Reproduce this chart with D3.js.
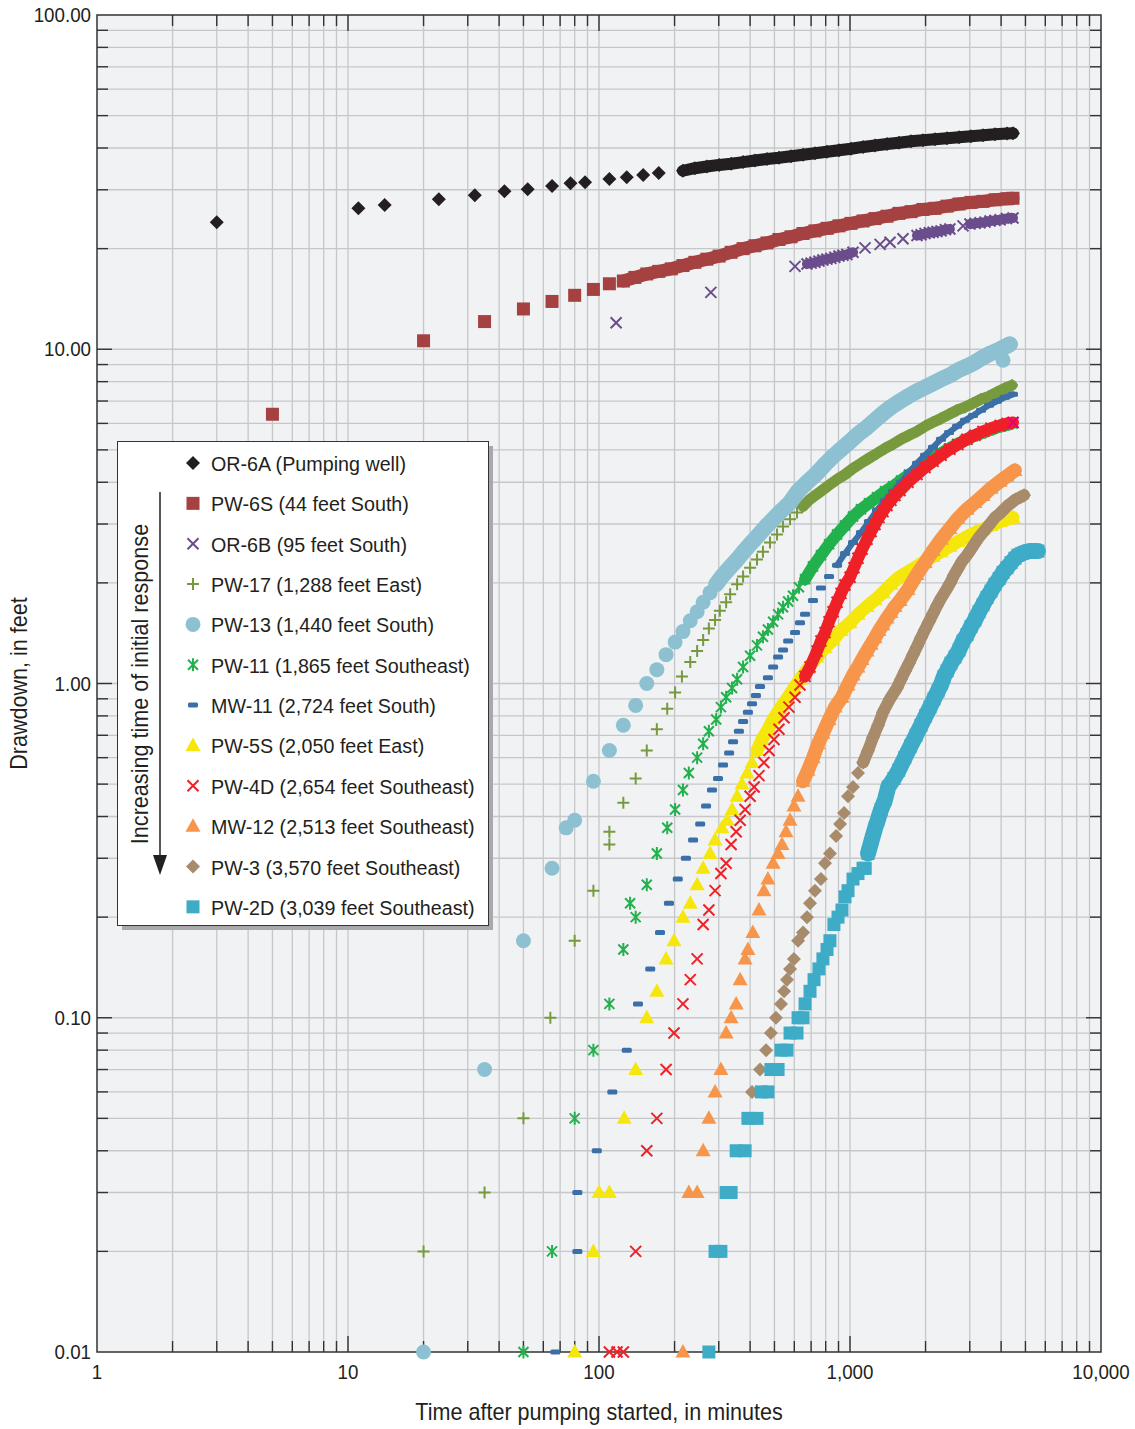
<!DOCTYPE html>
<html>
<head>
<meta charset="utf-8">
<title>Drawdown vs time</title>
<script src="https://d3js.org/d3.v7.min.js"></script>
<style>
  body { margin: 0; background: #fff; }
  text { font-family: "Liberation Sans", Arial, sans-serif; fill: #231f20; font-size: 21px; }
</style>
</head>
<body>
<div id="chart"></div>
<script>
// Drawdown readings, [minutes after pumping started, drawdown in feet]
const OR6A = [[3,24.0],[11,26.4],[14,27.0],[23,28.1],[32,28.9],[42,29.7],[52,30.1],[65,30.8],[77,31.4],[88,31.6],[110,32.3],[129,32.7],[150,33.2],[173,33.7],
  [216,34.2],[241,34.8],[269,35.2],[301,35.6],[336,35.9],[375,36.3],[418,36.7],[467,37.1],[521,37.4],[582,37.8],[650,38.2],[725,38.6],[810,39.0],[904,39.4],[1009,39.8],[1127,40.3],[1258,40.7],[1404,41.1],[1567,41.5],[1750,41.9],[1953,42.2],[2181,42.5],[2435,42.8],[2719,43.1],[3035,43.4],[3388,43.7],[3782,44.0],[4222,44.2],[4460,44.3]];
const PW6S = [[5,6.39],[20,10.6],[35,12.1],[50,13.2],[65,13.9],[80,14.5],[95,15.1],[110,15.7],
  [125,16.0],[139,16.4],[155,16.8],[173,17.1],[194,17.4],[216,17.8],[241,18.2],[269,18.6],[301,19.0],[336,19.5],[375,20.0],[418,20.4],[467,20.8],[521,21.3],[582,21.7],[650,22.2],[725,22.6],[810,23.0],[904,23.4],[1009,23.8],[1127,24.2],[1258,24.6],[1404,25.0],[1567,25.5],[1750,25.8],[1953,26.2],[2181,26.4],[2435,26.8],[2719,27.2],[3035,27.5],[3388,27.7],[3782,28.0],[4222,28.2],[4460,28.3]];
const OR6B = [[117,12.0],[279,14.8],[604,17.7],[674,18.0],[700,18.1],[725,18.2],[752,18.35],[780,18.5],[809,18.6],[839,18.7],[870,18.85],[904,19.0],[937,19.1],[972,19.2],[1028,19.5],[1148,20.1],[1318,20.6],[1444,20.9],[1626,21.4],
  [1849,21.9],[1920,22.0],[1990,22.2],[2070,22.3],[2143,22.4],[2220,22.5],[2306,22.6],[2400,22.8],[2500,22.9],[2820,23.4],[3005,23.7],[3150,23.8],[3296,23.9],[3450,24.0],[3613,24.2],[3780,24.3],[3963,24.4],[4200,24.6],[4460,24.7]];
const PW17 = [[20,0.02],[35,0.03],[50,0.05],[64,0.10],[80,0.17],[95,0.24],[110,0.33],[110,0.36],[125,0.44],[140,0.52],[155,0.63],[170,0.73],[187,0.84],[201,0.94],[214,1.05],[231,1.16],[246,1.25],[260,1.35],[274,1.46],[290,1.55],[303,1.65],[321,1.75],[333,1.85],[355,1.98],[375,2.09],[400,2.22],[426,2.35],[450,2.48],[480,2.64],[512,2.79],[541,2.95],[577,3.10],[615,3.25],[650,3.39],[693,3.56],
  [712,3.61],[766,3.76],[825,3.92],[888,4.08],[955,4.22],[1028,4.40],[1106,4.56],[1190,4.72],[1281,4.88],[1379,5.05],[1484,5.20],[1597,5.38],[1718,5.53],[1849,5.68],[1990,5.88],[2141,6.05],[2304,6.21],[2480,6.39],[2669,6.57],[2872,6.71],[3090,6.89],[3326,7.09],[3579,7.23],[3852,7.44],[4145,7.64],[4420,7.80]];
const PW13 = [[20,0.01],[35,0.07],[50,0.17],[65,0.28],[74,0.37],[80,0.39],[95,0.51],[110,0.63],[125,0.75],[140,0.86],[155,1.00],[170,1.10],[185,1.22],[201,1.33],[216,1.43],[231,1.54],[246,1.64],[260,1.75],[277,1.87],[293,1.98],[309,2.09],[330,2.21],[352,2.33],[375,2.47],[400,2.61],[430,2.77],[463,2.95],[498,3.12],[536,3.30],[577,3.48],[621,3.76],[668,3.97],[725,4.20],[788,4.49],[856,4.78],[929,5.05],[1000,5.30],[1076,5.57],[1169,5.84],[1258,6.13],[1353,6.43],[1456,6.71],[1582,6.99],[1702,7.23],[1849,7.49],[1990,7.69],[2143,7.91],[2306,8.13],[2500,8.36],[2693,8.65],[2924,8.89],[3148,9.14],[3388,9.46],[3646,9.73],[3963,10.0],[4337,10.35]];
const PW13_EXTRA = [[4072,9.27]];
const PW11 = [[50,0.01],[65,0.02],[80,0.05],[95,0.08],[110,0.11],[125,0.16],[133,0.22],[140,0.20],[155,0.25],[170,0.31],[187,0.37],[201,0.42],[216,0.48],[228,0.54],[246,0.60],[260,0.66],[274,0.72],[293,0.78],[306,0.85],[321,0.91],[339,0.97],[355,1.03],[375,1.12],[400,1.21],[426,1.30],[450,1.38],[471,1.45],[494,1.53],[517,1.61],[541,1.69],[567,1.76],[593,1.83],[626,1.94],
  [662,2.05],[712,2.24],[766,2.42],[825,2.61],[888,2.79],[955,2.97],[1028,3.16],[1106,3.32],[1190,3.46],[1281,3.61],[1379,3.76],[1484,3.89],[1597,4.05],[1718,4.22],[1849,4.37],[1990,4.53],[2141,4.72],[2304,4.88],[2480,5.05],[2669,5.20],[2872,5.34],[3090,5.49],[3326,5.60],[3579,5.72],[3852,5.84],[4145,5.92],[4420,6.00]];
const MW11 = [[67,0.01],[82,0.02],[82,0.03],[98,0.04],[113,0.06],[129,0.08],[143,0.11],[160,0.14],[175,0.18],[190,0.22],[206,0.26],[222,0.30],[237,0.34],[253,0.38],[267,0.43],[282,0.48],[298,0.52],[312,0.57],[330,0.62],[342,0.67],[361,0.72],[375,0.77],[392,0.82],[407,0.87],[422,0.92],[438,0.98],[471,1.04],[494,1.12],[517,1.20],[541,1.26],[567,1.34],[604,1.42],[632,1.52],
  [662,1.61],[712,1.77],[766,1.93],[825,2.09],[888,2.26],[955,2.45],[1028,2.64],[1106,2.83],[1190,3.05],[1281,3.30],[1379,3.53],[1484,3.76],[1597,4.00],[1718,4.28],[1849,4.56],[1990,4.82],[2141,5.09],[2304,5.38],[2480,5.64],[2669,5.88],[2872,6.13],[3090,6.34],[3326,6.57],[3579,6.80],[3852,6.99],[4145,7.18],[4460,7.33]];
const PW5S = [[80,0.01],[95,0.02],[100,0.03],[110,0.03],[126,0.05],[140,0.07],[155,0.10],[170,0.12],[185,0.15],[199,0.17],[216,0.20],[231,0.22],[246,0.25],[260,0.28],[277,0.31],[290,0.34],[309,0.37],[324,0.39],[339,0.42],[355,0.46],[371,0.50],[389,0.54],[407,0.58],[426,0.63],[446,0.68],[467,0.72],[494,0.78],[526,0.84],[561,0.90],[593,0.96],[632,1.03],[680,1.11],[739,1.20],[795,1.28],[856,1.35],[921,1.44],[1000,1.52],[1076,1.61],[1169,1.70],[1258,1.78],[1353,1.87],[1456,1.98],[1582,2.09],[1702,2.16],[1849,2.24],[1990,2.32],[2143,2.40],[2306,2.48],[2500,2.57],[2693,2.66],[2924,2.75],[3148,2.83],[3388,2.89],[3646,2.97],[3963,3.05],[4222,3.10],[4460,3.14]];
const PW4D = [[110,0.01],[118,0.01],[125,0.01],[140,0.02],[155,0.04],[170,0.05],[185,0.07],[199,0.09],[216,0.11],[231,0.13],[246,0.15],[260,0.19],[274,0.21],[290,0.24],[306,0.27],[321,0.29],[336,0.33],[352,0.36],[365,0.39],[382,0.42],[400,0.46],[415,0.49],[434,0.53],[454,0.58],[476,0.63],[498,0.68],[521,0.73],[546,0.79],[571,0.85],[604,0.91],[632,0.99],[662,1.05],[693,1.12],[739,1.25],[766,1.34],[795,1.42],[825,1.53],[856,1.64],[888,1.75],[921,1.86],[955,1.97],[1000,2.08],[1037,2.22],[1076,2.37],[1117,2.52],[1169,2.70],[1213,2.85],[1258,2.99],[1305,3.14],[1353,3.27],[1404,3.41],[1456,3.53],[1511,3.65],[1582,3.78],[1702,4.00],[1849,4.22],[1990,4.43],[2143,4.62],[2306,4.82],[2500,5.02],[2693,5.19],[2924,5.38],[3148,5.53],[3388,5.68],[3646,5.80],[3963,5.92],[4222,6.00],[4460,6.04]];
const PW4D_LAST = [[4460,6.04]];
const MW12 = [[216,0.01],[228,0.03],[246,0.03],[260,0.04],[274,0.05],[290,0.06],[306,0.07],[321,0.09],[336,0.10],[352,0.11],[365,0.13],[382,0.15],[392,0.16],[410,0.18],[434,0.21],[454,0.24],[471,0.26],[494,0.29],[517,0.31],[536,0.33],[556,0.36],[577,0.39],[598,0.43],[621,0.46],[650,0.51],[680,0.55],[713,0.60],[746,0.66],[780,0.71],[825,0.78],[872,0.85],[929,0.91],[982,0.99],[1028,1.06],[1076,1.12],[1117,1.18],[1169,1.25],[1213,1.31],[1258,1.37],[1305,1.44],[1353,1.50],[1404,1.57],[1456,1.63],[1511,1.70],[1582,1.77],[1702,1.91],[1849,2.12],[1990,2.30],[2143,2.50],[2306,2.70],[2500,2.91],[2693,3.12],[2924,3.32],[3148,3.48],[3388,3.65],[3646,3.84],[3963,4.03],[4222,4.17],[4540,4.34]];
const PW3 = [[407,0.06],[438,0.07],[463,0.08],[484,0.09],[507,0.10],[531,0.11],[546,0.12],[561,0.13],[577,0.14],[598,0.15],[621,0.17],[650,0.18],[674,0.20],[693,0.22],[725,0.24],[766,0.26],[795,0.29],[832,0.31],[880,0.35],[913,0.38],[947,0.41],[982,0.46],[1028,0.49],[1076,0.54],[1127,0.58],[1180,0.63],[1235,0.69],[1294,0.75],[1353,0.82],[1444,0.90],[1538,0.97],[1597,1.03],[1657,1.09],[1718,1.15],[1783,1.22],[1849,1.29],[1918,1.37],[1990,1.45],[2063,1.53],[2143,1.62],[2222,1.71],[2306,1.80],[2412,1.90],[2500,1.99],[2597,2.11],[2693,2.21],[2793,2.32],[2924,2.42],[3035,2.52],[3148,2.63],[3267,2.74],[3388,2.83],[3515,2.93],[3646,3.03],[3782,3.14],[3963,3.23],[4110,3.32],[4260,3.41],[4420,3.48],[4585,3.56],[4753,3.60],[4936,3.66]];
const PW2D = [[274,0.01],[290,0.02],[306,0.02],[321,0.03],[336,0.03],[352,0.04],[382,0.04],[392,0.05],[426,0.05],[443,0.06],[471,0.06],[484,0.07],[517,0.07],[531,0.08],[561,0.08],[577,0.09],[615,0.09],[621,0.10],[650,0.10],[662,0.11],[693,0.12],[719,0.13],[752,0.14],[780,0.15],[810,0.16],[832,0.17],[863,0.19],[896,0.20],[929,0.21],[955,0.23],[982,0.24],[1028,0.26],[1076,0.27],[1127,0.28],[1150,0.28],[1180,0.31],[1220,0.34],[1260,0.37],[1290,0.39],[1330,0.42],[1380,0.45],[1420,0.49],[1497,0.52],[1563,0.55],[1653,0.60],[1743,0.65],[1832,0.70],[1918,0.75],[2000,0.80],[2083,0.85],[2162,0.90],[2242,0.95],[2315,1.00],[2368,1.05],[2435,1.09],[2525,1.15],[2620,1.20],[2719,1.26],[2820,1.34],[2924,1.40],[3035,1.48],[3148,1.55],[3267,1.64],[3388,1.72],[3515,1.81],[3646,1.89],[3782,1.98],[3926,2.06],[4072,2.15],[4222,2.22],[4382,2.30],[4540,2.37],[4670,2.42],[4841,2.45],[4980,2.47],[5165,2.49],[5310,2.49],[5509,2.49],[5610,2.49]];

const seriesNames = ["OR-6A (Pumping well)", "PW-6S (44 feet South)", "OR-6B (95 feet South)", "PW-17 (1,288 feet East)",
  "PW-13 (1,440 feet South)", "PW-11 (1,865 feet Southeast)", "MW-11 (2,724 feet South)", "PW-5S (2,050 feet East)",
  "PW-4D (2,654 feet Southeast)", "MW-12 (2,513 feet Southeast)", "PW-3 (3,570 feet Southeast)", "PW-2D (3,039 feet Southeast)"];
const seriesData = [OR6A, PW6S, OR6B, PW17, PW13, PW11, MW11, PW5S, PW4D, MW12, PW3, PW2D];

const xTickValues = [1, 10, 100, 1000, 10000];
const xTickLabels = ["1", "10", "100", "1,000", "10,000"];
const yTickValues = [0.01, 0.1, 1, 10, 100];
const yTickLabels = ["0.01", "0.10", "1.00", "10.00", "100.00"];

// marker styles, same order as the series
const markerShapes = ["diamond", "square", "x", "plus", "circle", "asterisk", "dash", "triangle", "x", "triangle", "diamond", "square"];
const markerColors = ["#231f20", "#a54141", "#6b4d8c", "#789a3e", "#8dc1d1", "#22b14c", "#3b6fa8", "#f5e60c", "#ee2128", "#f7964b", "#a78b6b", "#3eabc7"];
// where the logger readings are so close that the markers merge into a band (time ranges), and band width
const bandRanges = [[[200, 5000]], [[120, 5000]], [[660, 1050], [1800, 2550], [2950, 5000]], [[620, 5000]],
  [[280, 5000]], [[640, 5000]], [[850, 5000]], [[420, 5000]], [[650, 5000]], [[640, 5000]], [[1100, 5000]], [[1160, 6000]]];
const bandWidths = [12, 13, 10, 11, 16, 12, 6, 13, 12, 14, 12, 16];

const width = 1135, height = 1429;
const plotLeft = 97, plotRight = 1101, plotTop = 15, plotBottom = 1352;

const svg = d3.select("#chart").append("svg")
  .attr("width", width).attr("height", height);

// the original type is a condensed face; squeeze a regular face to the same width
const probe = svg.append("text").text("PW-11 (1,865 feet Southeast)");
const squeeze = 259 / probe.node().getComputedTextLength();
probe.remove();

function label(parent, px, py, str, anchor, angle, size) {
  parent.append("g")
    .attr("transform", "translate(" + px + "," + py + ")" + (angle ? " rotate(" + angle + ")" : "") + " scale(" + squeeze + ",1)")
    .append("text").attr("text-anchor", anchor || "start")
    .style("font-size", (size || 21) + "px").text(str);
}

const x = d3.scaleLog().domain([1, 10000]).range([plotLeft, plotRight]);
const y = d3.scaleLog().domain([0.01, 100]).range([plotBottom, plotTop]);

svg.append("rect").attr("x", plotLeft).attr("y", plotTop)
  .attr("width", plotRight - plotLeft).attr("height", plotBottom - plotTop)
  .attr("fill", "#f1f2f4");

// minor + major grid values
function logSteps(lo, hi) {
  let out = [];
  for (let p = lo; p < hi * 0.999; p *= 10) {
    for (let k = 1; k <= 9; k++) out.push({v: p * k, major: k == 1});
  }
  return out;
}
const xGrid = logSteps(1, 10000).filter(d => d.v > 1);
const yGrid = logSteps(0.01, 100).filter(d => d.v > 0.0101);

const grid = svg.append("g").attr("stroke", "#c6c7c9").attr("stroke-width", 1.3);
grid.selectAll(".gx").data(xGrid).enter().append("line")
  .attr("x1", d => x(d.v)).attr("x2", d => x(d.v))
  .attr("y1", plotTop).attr("y2", plotBottom);
grid.selectAll(".gy").data(yGrid).enter().append("line")
  .attr("x1", plotLeft).attr("x2", plotRight)
  .attr("y1", d => y(d.v)).attr("y2", d => y(d.v));

// inward tick marks on all four sides
const ticks = svg.append("g").attr("stroke", "#333").attr("stroke-width", 1.4);
xGrid.forEach(d => {
  let len = d.major ? 16 : 11;
  ticks.append("line").attr("x1", x(d.v)).attr("x2", x(d.v)).attr("y1", plotBottom).attr("y2", plotBottom - len);
  ticks.append("line").attr("x1", x(d.v)).attr("x2", x(d.v)).attr("y1", plotTop).attr("y2", plotTop + len);
});
yGrid.forEach(d => {
  let len = d.major ? 15 : 11;
  ticks.append("line").attr("y1", y(d.v)).attr("y2", y(d.v)).attr("x1", plotLeft).attr("x2", plotLeft + len);
  ticks.append("line").attr("y1", y(d.v)).attr("y2", y(d.v)).attr("x1", plotRight).attr("x2", plotRight - len);
});

svg.append("rect").attr("x", plotLeft).attr("y", plotTop)
  .attr("width", plotRight - plotLeft).attr("height", plotBottom - plotTop)
  .attr("fill", "none").attr("stroke", "#333").attr("stroke-width", 1.5);

// tick labels and titles
xTickValues.forEach((v, i) => label(svg, x(v), plotBottom + 27, xTickLabels[i], "middle", 0, 20));
yTickValues.forEach((v, i) => label(svg, plotLeft - 6, y(v) + 7, yTickLabels[i], "end", 0, 20));
label(svg, (plotLeft + plotRight) / 2, 1420, "Time after pumping started, in minutes", "middle", 0, 23);
label(svg, 27, (plotTop + plotBottom) / 2, "Drawdown, in feet", "middle", -90, 23);

// marker drawing
function drawMarker(g, shape, color) {
  if (shape == "diamond") {
    g.append("path").attr("d", "M0,-7L7,0L0,7L-7,0Z").attr("fill", color);
  } else if (shape == "square") {
    g.append("rect").attr("x", -6.5).attr("y", -6.5).attr("width", 13).attr("height", 13).attr("fill", color);
  } else if (shape == "circle") {
    g.append("circle").attr("r", 7.5).attr("fill", color);
  } else if (shape == "triangle") {
    g.append("path").attr("d", "M0,-8L7.5,5.5L-7.5,5.5Z").attr("fill", color);
  } else if (shape == "dash") {
    g.append("rect").attr("x", -5).attr("y", -2.5).attr("width", 10).attr("height", 5).attr("rx", 1.5).attr("fill", color);
  } else {
    let p = {x: "M-5.5,-5.5L5.5,5.5M-5.5,5.5L5.5,-5.5",
             plus: "M-6,0H6M0,-6V6",
             asterisk: "M-5,-5L5,5M-5,5L5,-5M0,-6.5V6.5"}[shape];
    g.append("path").attr("d", p).attr("fill", "none").attr("stroke", color).attr("stroke-width", 2);
  }
}

function drawPoints(parent, data, shape, color) {
  parent.append("g").selectAll("g").data(data).enter().append("g")
    .attr("transform", d => "translate(" + x(d[0]) + "," + y(d[1]) + ")")
    .each(function() { drawMarker(d3.select(this), shape, color); });
}

const band = d3.line().x(d => x(d[0])).y(d => y(d[1]));
const plot = svg.append("g");
seriesData.forEach((data, i) => {
  const g = plot.append("g");
  bandRanges[i].forEach(r => {
    const seg = data.filter(d => d[0] >= r[0] && d[0] <= r[1]);
    g.append("path").attr("d", band(seg)).attr("fill", "none")
      .attr("stroke", markerColors[i]).attr("stroke-width", bandWidths[i])
      .attr("stroke-linejoin", "round").attr("stroke-linecap", "round");
  });
  drawPoints(g, data, markerShapes[i], markerColors[i]);
  if (i == 4) drawPoints(g, PW13_EXTRA, "circle", markerColors[i]);
});
drawPoints(plot, PW4D_LAST, "x", "#e6007e");

// legend
const lg = svg.append("g");
lg.append("rect").attr("x", 122).attr("y", 446).attr("width", 371).attr("height", 484).attr("fill", "#a7a9ac");
lg.append("rect").attr("x", 117.5).attr("y", 441.5).attr("width", 371).attr("height", 484)
  .attr("fill", "#fff").attr("stroke", "#333").attr("stroke-width", 1);
seriesNames.forEach((name, i) => {
  let cy = 463 + i * 40.35;
  let m = lg.append("g").attr("transform", "translate(193," + cy + ")");
  drawMarker(m, markerShapes[i], markerColors[i]);
  label(lg, 211, cy + 8, name);
});
label(lg, 148, 684, "Increasing time of initial response", "middle", -90, 23);
lg.append("line").attr("x1", 160).attr("x2", 160).attr("y1", 492).attr("y2", 860)
  .attr("stroke", "#231f20").attr("stroke-width", 1.5);
lg.append("path").attr("d", "M153,855L167,855L160,875Z").attr("fill", "#231f20");
</script>
</body>
</html>
